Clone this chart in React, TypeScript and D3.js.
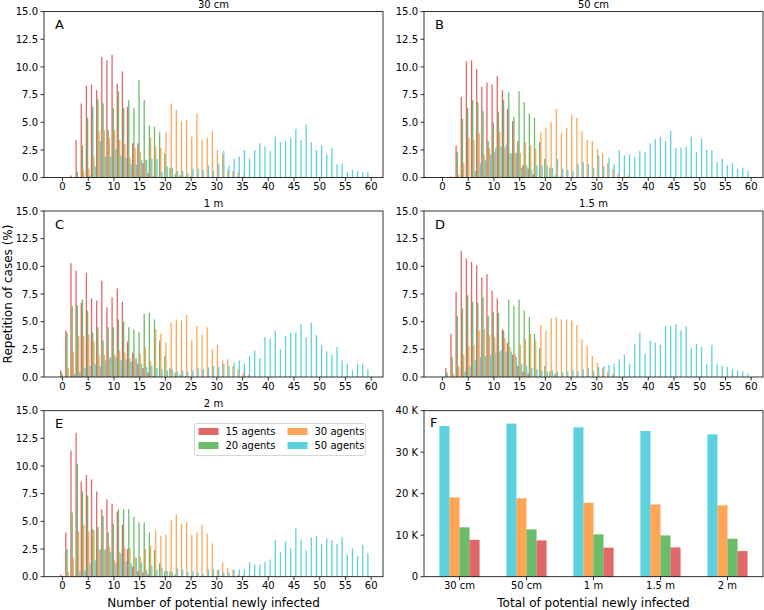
import React from "react";
import * as d3 from "d3";

// ---------- data ----------
const seriesNames = ["15 agents", "20 agents", "30 agents", "50 agents"];
const seriesColors = ["#d62728", "#2ca02c", "#ff7f0e", "#17becf"];
const xTickValues = [0, 5, 10, 15, 20, 25, 30, 35, 40, 45, 50, 55, 60];
const yTickValues = [0, 2.5, 5, 7.5, 10, 12.5, 15];
const panelLetters = ["A", "B", "C", "D", "E"];
const panelTitles = ["30 cm", "50 cm", "1 m", "1.5 m", "2 m"];

// 30 cm
const a15 = [0, 0, 0.2, 3.4, 6.7, 8.3, 8.4, 7.9, 10.9, 10.6, 11.1, 8.5, 9.6, 6.4, 3.1, 3.1, 1.3, 0.4, 0.1, 0, 0, 0, 0, 0, 0, 0, 0, 0, 0, 0, 0, 0, 0, 0, 0, 0, 0, 0, 0, 0, 0, 0, 0, 0, 0, 0, 0, 0, 0, 0, 0, 0, 0, 0, 0, 0, 0, 0, 0, 0];
const a20 = [0, 0, 0, 0.5, 2.9, 5.4, 6.4, 7.1, 6.7, 4.3, 6.3, 7.8, 6.3, 7.0, 6.3, 8.8, 7.0, 4.7, 4.6, 4.1, 2.2, 0.9, 0.3, 0.2, 0.1, 0.1, 0, 0, 0, 0, 0, 0, 0, 0, 0, 0, 0, 0, 0, 0, 0, 0, 0, 0, 0, 0, 0, 0, 0, 0, 0, 0, 0, 0, 0, 0, 0, 0, 0, 0];
const a30 = [0, 0, 0, 0, 0.6, 0.8, 1.9, 4.2, 4.3, 3.6, 4.3, 3.4, 3.0, 1.8, 2.7, 2.3, 1.6, 3.6, 2.8, 2.7, 4.1, 6.7, 6.1, 5.1, 5.2, 3.7, 5.8, 3.4, 3.6, 4.2, 2.5, 2.1, 0.7, 0.6, 0.5, 0.2, 0, 0, 0, 0, 0, 0, 0, 0, 0, 0, 0, 0, 0, 0, 0, 0, 0, 0, 0, 0, 0, 0, 0, 0];
const a50 = [0, 0, 0, 0, 0, 0.2, 1.0, 3.3, 1.9, 1.9, 2.6, 2.0, 1.8, 1.2, 1.2, 1.6, 1.6, 1.7, 1.7, 0.5, 1.0, 0.9, 0.6, 0.6, 0.4, 0.8, 0.8, 0.7, 1.1, 0.6, 1.2, 2.4, 1.1, 1.7, 1.9, 2.5, 1.7, 2.5, 3.1, 2.8, 2.4, 3.7, 3.2, 3.3, 3.6, 4.4, 3.4, 4.8, 3.2, 2.5, 2.9, 2.1, 2.7, 1.2, 1.3, 0.5, 0.7, 0.6, 0.5, 0.5];
// 50 cm
const b15 = [0, 0, 0.1, 2.9, 7.3, 10.5, 10.6, 9.8, 8.2, 8.6, 8.4, 9.2, 7.9, 6.2, 5.1, 3.3, 1.1, 0.8, 0.3, 0, 0, 0, 0, 0, 0, 0, 0, 0, 0, 0, 0, 0, 0, 0, 0, 0, 0, 0, 0, 0, 0, 0, 0, 0, 0, 0, 0, 0, 0, 0, 0, 0, 0, 0, 0, 0, 0, 0, 0, 0];
const b20 = [0, 0, 0, 2.3, 5.3, 6.3, 7.0, 6.8, 6.0, 3.3, 5.0, 5.9, 7.0, 7.7, 5.5, 7.8, 6.8, 5.8, 5.4, 3.2, 1.7, 0.9, 0.2, 0.1, 0, 0, 0, 0, 0, 0, 0, 0, 0, 0, 0, 0, 0, 0, 0, 0, 0, 0, 0, 0, 0, 0, 0, 0, 0, 0, 0, 0, 0, 0, 0, 0, 0, 0, 0, 0];
const b30 = [0, 0, 0.1, 0.3, 1.3, 3.6, 3.4, 4.0, 2.1, 2.7, 2.3, 4.1, 2.7, 2.2, 2.3, 2.2, 3.2, 2.9, 2.6, 4.1, 4.5, 5.0, 6.2, 4.0, 4.5, 5.7, 5.4, 4.2, 3.4, 3.3, 2.6, 2.2, 1.3, 0.8, 0.3, 0.1, 0.2, 0, 0, 0, 0, 0, 0, 0, 0, 0, 0, 0, 0, 0, 0, 0, 0, 0, 0, 0, 0, 0, 0, 0];
const b50 = [0, 0, 0, 0, 0, 0, 0.6, 1.3, 1.6, 2.1, 2.7, 2.8, 3.0, 2.2, 2.2, 0.9, 1.1, 0.7, 1.1, 1.1, 1.1, 0.9, 1.7, 0.8, 0.7, 0.6, 1.2, 1.4, 1.2, 0.9, 2.0, 1.0, 1.8, 1.2, 2.5, 2.0, 2.1, 1.9, 2.4, 2.3, 3.1, 3.5, 3.7, 3.3, 4.2, 2.7, 2.7, 2.8, 3.7, 2.3, 3.5, 2.5, 2.5, 1.4, 1.7, 1.1, 1.3, 0.8, 0.9, 0.6];
// 1 m
const c15 = [0.6, 4.2, 10.3, 9.6, 6.7, 9.4, 7.1, 6.9, 8.7, 6.3, 7.2, 8.0, 6.8, 3.2, 2.2, 1.2, 0.8, 0.4, 0.1, 0, 0, 0, 0, 0, 0, 0, 0, 0, 0, 0, 0, 0, 0, 0, 0, 0, 0, 0, 0, 0, 0, 0, 0, 0, 0, 0, 0, 0, 0, 0, 0, 0, 0, 0, 0, 0, 0, 0, 0, 0];
const c20 = [0.4, 4.0, 6.4, 6.5, 7.0, 6.0, 4.0, 4.5, 3.3, 4.5, 4.5, 5.2, 5.0, 4.5, 4.3, 4.1, 5.7, 5.8, 5.2, 3.3, 1.9, 0.8, 0.4, 0.2, 0.1, 0, 0, 0, 0, 0, 0, 0, 0, 0, 0, 0, 0, 0, 0, 0, 0, 0, 0, 0, 0, 0, 0, 0, 0, 0, 0, 0, 0, 0, 0, 0, 0, 0, 0, 0];
const c30 = [0, 0.8, 2.3, 3.7, 3.7, 3.8, 3.2, 2.0, 2.0, 1.7, 2.0, 2.4, 2.2, 1.7, 1.7, 2.1, 2.7, 1.4, 4.3, 3.9, 3.1, 4.9, 5.2, 5.1, 5.6, 3.3, 4.6, 3.8, 4.5, 2.5, 2.9, 1.5, 1.6, 1.0, 0.7, 0.4, 0.2, 0, 0, 0, 0, 0, 0, 0, 0, 0, 0, 0, 0, 0, 0, 0, 0, 0, 0, 0, 0, 0, 0, 0];
const c50 = [0, 0, 0.3, 0.5, 0.8, 1.0, 1.2, 1.0, 1.5, 1.8, 1.8, 1.5, 1.6, 1.4, 1.7, 1.2, 0.9, 1.0, 0.8, 0.7, 0.6, 0.7, 0.5, 0.6, 0.5, 0.6, 0.8, 0.7, 0.9, 1.0, 0.9, 1.2, 1.0, 1.3, 1.5, 1.2, 1.9, 2.4, 1.7, 3.6, 3.5, 4.2, 2.5, 3.7, 4.0, 4.0, 4.8, 3.6, 4.9, 3.8, 2.9, 2.3, 2.0, 2.7, 1.5, 1.2, 0.6, 1.2, 1.2, 0.7];
// 1.5 m
const d15 = [0, 0.8, 3.9, 7.7, 11.4, 10.7, 10.4, 10.1, 9.0, 9.3, 7.8, 7.1, 4.3, 3.1, 2.0, 1.0, 0.5, 0.3, 0, 0, 0, 0, 0, 0, 0, 0, 0, 0, 0, 0, 0, 0, 0, 0, 0, 0, 0, 0, 0, 0, 0, 0, 0, 0, 0, 0, 0, 0, 0, 0, 0, 0, 0, 0, 0, 0, 0, 0, 0, 0];
const d20 = [0, 0.4, 1.8, 5.5, 6.2, 7.4, 6.8, 6.7, 7.2, 5.5, 5.9, 5.8, 4.2, 7.0, 6.4, 7.0, 6.0, 5.4, 3.9, 2.6, 1.0, 0.5, 0.3, 0, 0, 0, 0, 0, 0, 0, 0, 0, 0, 0, 0, 0, 0, 0, 0, 0, 0, 0, 0, 0, 0, 0, 0, 0, 0, 0, 0, 0, 0, 0, 0, 0, 0, 0, 0, 0];
const d30 = [0, 0, 0.3, 1.0, 2.0, 2.8, 2.9, 4.2, 4.3, 3.8, 3.6, 2.3, 3.5, 2.7, 2.1, 2.9, 3.4, 3.9, 3.3, 4.7, 4.2, 5.3, 5.4, 5.2, 5.2, 5.1, 4.7, 3.4, 2.8, 1.9, 1.3, 0.8, 0.5, 0.3, 0, 0, 0, 0, 0, 0, 0, 0, 0, 0, 0, 0, 0, 0, 0, 0, 0, 0, 0, 0, 0, 0, 0, 0, 0, 0];
const d50 = [0, 0, 0, 0, 0.5, 1.0, 1.5, 1.8, 1.9, 2.0, 2.2, 2.4, 2.3, 2.3, 1.8, 1.2, 1.0, 0.8, 0.7, 0.6, 0.5, 0.6, 0.5, 0.4, 0.5, 0.6, 0.5, 0.7, 0.8, 0.6, 0.9, 1.0, 1.1, 1.2, 1.6, 2.0, 1.2, 3.0, 4.0, 2.1, 3.3, 3.1, 2.9, 4.6, 4.6, 4.8, 4.2, 4.6, 2.6, 3.0, 2.7, 1.2, 2.9, 1.2, 1.0, 0.9, 0.7, 0.6, 0.5, 0.3];
// 2 m
const e15 = [0.2, 4.0, 11.4, 13.0, 8.6, 9.2, 8.8, 7.7, 6.1, 7.0, 6.6, 5.9, 4.7, 2.5, 0.9, 0.5, 0.4, 0.2, 0, 0, 0, 0, 0, 0, 0, 0, 0, 0, 0, 0, 0, 0, 0, 0, 0, 0, 0, 0, 0, 0, 0, 0, 0, 0, 0, 0, 0, 0, 0, 0, 0, 0, 0, 0, 0, 0, 0, 0, 0, 0];
const e20 = [0, 2.5, 5.8, 10.2, 7.7, 7.35, 4.3, 4.5, 5.5, 4.0, 4.8, 6.1, 6.1, 6.1, 5.4, 4.9, 4.9, 4.0, 2.4, 1.2, 0.5, 0.5, 0.2, 0, 0, 0, 0, 0, 0, 0, 0, 0, 0, 0, 0, 0, 0, 0, 0, 0, 0, 0, 0, 0, 0, 0, 0, 0, 0, 0, 0, 0, 0, 0, 0, 0, 0, 0, 0, 0];
const e30 = [0.1, 0.4, 1.7, 4.1, 4.7, 4.1, 4.2, 2.4, 2.4, 2.7, 1.5, 2.2, 2.6, 2.6, 1.8, 1.8, 2.5, 2.8, 4.2, 3.7, 3.8, 5.1, 5.6, 4.8, 4.9, 3.8, 4.0, 4.7, 3.9, 3.0, 0.6, 1.3, 0.8, 0.6, 0.2, 0.1, 0.1, 0.1, 0, 0, 0.1, 0, 0, 0, 0, 0, 0, 0, 0, 0, 0, 0, 0, 0, 0, 0, 0, 0, 0, 0];
const e50 = [0, 0, 0, 0.5, 0.6, 1.2, 1.5, 2.5, 2.5, 2.2, 1.2, 2.1, 1.4, 1.2, 1.7, 1.3, 0.6, 1.0, 0.6, 0.8, 0.5, 0.4, 0.75, 0.65, 0.4, 0.5, 0.4, 0.25, 0.65, 0.65, 0.65, 0.4, 0.35, 0.65, 0.65, 0.65, 1.3, 1.1, 1.1, 1.35, 1.55, 3.3, 2.2, 3.2, 2.55, 4.35, 3.35, 2.4, 3.55, 3.65, 2.95, 3.45, 3.3, 2.95, 3.55, 2.0, 2.55, 1.85, 2.85, 2.1];

// panel F: totals (thousands)
const totalCategories = ["30 cm", "50 cm", "1 m", "1.5 m", "2 m"];
const total50 = [36.3, 36.9, 36.0, 35.1, 34.3];
const total30 = [19.1, 18.9, 17.8, 17.4, 17.2];
const total20 = [11.9, 11.4, 10.2, 9.95, 9.15];
const total15 = [8.9, 8.75, 7.0, 7.06, 6.17];
const totalTicks = [0, 10, 20, 30, 40];

const histSeries = [
  [a15, a20, a30, a50],
  [b15, b20, b30, b50],
  [c15, c20, c30, c50],
  [d15, d20, d30, d50],
  [e15, e20, e30, e50],
];

// ---------- layout ----------
const FONT = "DejaVu Sans, sans-serif";
const colLeft = [44, 424];
const panelW = 339;
const rowTop = [11.6, 211, 410.7];
const panelH = 166;
const ALPHA = 0.7;

function Axes({ x0, y0 }: { x0: number; y0: number }) {
  return (
    <rect x={x0} y={y0} width={panelW} height={panelH} fill="none" stroke="#000" strokeWidth={0.8} />
  );
}

function HistPanel({ idx }: { idx: number }) {
  const col = idx % 2;
  const row = Math.floor(idx / 2);
  const x0 = colLeft[col];
  const y0 = rowTop[row];
  const xs = d3.scaleLinear().domain([-3.6, 62.3]).range([x0, x0 + panelW]);
  const ys = d3.scaleLinear().domain([0, 15]).range([y0 + panelH, y0]);
  const offsets = [-0.36, -0.12, 0.12, 0.36];
  const bw = xs(0.25) - xs(0);
  const series = histSeries[idx];
  return (
    <g>
      {series.map((vals, si) => (
        <g key={si} fill={seriesColors[si]} fillOpacity={ALPHA}>
          {vals.map((v, b) =>
            v > 0 ? (
              <rect
                key={b}
                x={xs(b + offsets[si]) - bw / 2}
                y={ys(v)}
                width={bw}
                height={ys(0) - ys(v)}
              />
            ) : null
          )}
        </g>
      ))}
      <Axes x0={x0} y0={y0} />
      {xTickValues.map((t) => (
        <g key={t}>
          <line x1={xs(t)} x2={xs(t)} y1={y0 + panelH} y2={y0 + panelH + 3.5} stroke="#000" strokeWidth={0.8} />
          <text x={xs(t)} y={y0 + panelH + 12.5} textAnchor="middle" fontSize={10} fontFamily={FONT}>
            {t}
          </text>
        </g>
      ))}
      {yTickValues.map((t) => (
        <g key={t}>
          <line x1={x0 - 3.5} x2={x0} y1={ys(t)} y2={ys(t)} stroke="#000" strokeWidth={0.8} />
          <text x={x0 - 6} y={ys(t) + 3.6} textAnchor="end" fontSize={10} fontFamily={FONT}>
            {t.toFixed(1)}
          </text>
        </g>
      ))}
      <text x={x0 + panelW / 2} y={y0 - 4} textAnchor="middle" fontSize={10} fontFamily={FONT}>
        {panelTitles[idx]}
      </text>
      <text x={x0 + 11} y={y0 + 17.5} fontSize={13} fontFamily={FONT}>
        {panelLetters[idx]}
      </text>
    </g>
  );
}

function Legend() {
  const lx = 194.5;
  const ly = 423.5;
  const items = [
    { name: seriesNames[0], color: seriesColors[0], x: 0, y: 0 },
    { name: seriesNames[1], color: seriesColors[1], x: 0, y: 1 },
    { name: seriesNames[2], color: seriesColors[2], x: 1, y: 0 },
    { name: seriesNames[3], color: seriesColors[3], x: 1, y: 1 },
  ];
  return (
    <g>
      <rect x={lx} y={ly} width={171} height={32} rx={2.5} fill="#fff" fillOpacity={0.8} stroke="#ccc" strokeWidth={0.8} />
      {items.map((it) => {
        const sx = lx + 4 + it.x * 89;
        const cy = ly + 8 + it.y * 14;
        return (
          <g key={it.name}>
            <rect x={sx} y={cy - 3.5} width={20} height={7} fill={it.color} fillOpacity={ALPHA} />
            <text x={sx + 27} y={cy + 3.6} fontSize={10} fontFamily={FONT}>
              {it.name}
            </text>
          </g>
        );
      })}
    </g>
  );
}

function TotalsPanel() {
  const x0 = colLeft[1];
  const y0 = rowTop[2];
  const xs = d3.scaleLinear().domain([-0.53, 4.53]).range([x0, x0 + panelW]);
  const ys = d3.scaleLinear().domain([0, 40]).range([y0 + panelH, y0]);
  const groups = [total50, total30, total20, total15];
  const groupColors = [seriesColors[3], seriesColors[2], seriesColors[1], seriesColors[0]];
  const offsets = [-0.225, -0.075, 0.075, 0.225];
  const bw = xs(0.15) - xs(0);
  return (
    <g>
      {groups.map((vals, gi) => (
        <g key={gi} fill={groupColors[gi]} fillOpacity={ALPHA}>
          {vals.map((v, i) => (
            <rect key={i} x={xs(i + offsets[gi]) - bw / 2} y={ys(v)} width={bw} height={ys(0) - ys(v)} />
          ))}
        </g>
      ))}
      <Axes x0={x0} y0={y0} />
      {totalCategories.map((c, i) => (
        <g key={c}>
          <line x1={xs(i)} x2={xs(i)} y1={y0 + panelH} y2={y0 + panelH + 3.5} stroke="#000" strokeWidth={0.8} />
          <text x={xs(i)} y={y0 + panelH + 12.5} textAnchor="middle" fontSize={10} fontFamily={FONT}>
            {c}
          </text>
        </g>
      ))}
      {totalTicks.map((t) => (
        <g key={t}>
          <line x1={x0 - 3.5} x2={x0} y1={ys(t)} y2={ys(t)} stroke="#000" strokeWidth={0.8} />
          <text x={x0 - 6} y={ys(t) + 3.6} textAnchor="end" fontSize={10} fontFamily={FONT}>
            {t === 0 ? "0" : `${t} K`}
          </text>
        </g>
      ))}
      <text x={x0 + 6} y={y0 + 16} fontSize={13} fontFamily={FONT}>
        F
      </text>
    </g>
  );
}

export default function App() {
  return (
    <svg width={764} height={610} style={{ position: "absolute", left: 0, top: 0, background: "#fff" }}>
      <rect width={764} height={610} fill="#fff" />
      {[0, 1, 2, 3, 4].map((i) => (
        <HistPanel key={i} idx={i} />
      ))}
      <Legend />
      <TotalsPanel />
      <text
        transform={`translate(12,294) rotate(-90)`}
        textAnchor="middle"
        fontSize={12}
        fontFamily={FONT}
      >
        Repetition of cases (%)
      </text>
      <text x={colLeft[0] + panelW / 2} y={607} textAnchor="middle" fontSize={12} fontFamily={FONT}>
        Number of potential newly infected
      </text>
      <text x={colLeft[1] + panelW / 2} y={607} textAnchor="middle" fontSize={12} fontFamily={FONT}>
        Total of potential newly infected
      </text>
    </svg>
  );
}
